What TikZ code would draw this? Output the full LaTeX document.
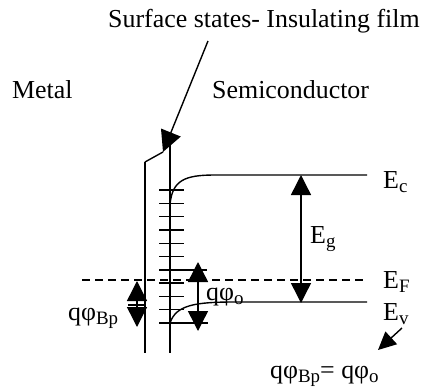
\documentclass[tikz,border=0pt]{standalone}
\usepackage{fontspec}
\setmainfont{Liberation Serif}
\usepackage{tikz}
\usetikzlibrary{arrows.meta, calc}
\newcommand{\lsub}[1]{\raisebox{-4bp}{\fontsize{19}{20}\selectfont #1}}
\tikzset{
  band/.style={line width=1.4pt},
  bigtip/.style={line width=1.4pt, {Triangle[length=20bp, width=20bp]}-{Triangle[length=20bp, width=20bp]}},
  lbl/.style={font=\fontsize{26}{30}\selectfont, inner sep=0pt, anchor=base west}
}

\begin{document}
\begin{tikzpicture}[x=1bp, y=-1bp]
  \useasboundingbox (0,0) rectangle (428,389);
  % Titles
  \node[lbl] (title) at (108,27) {Surface states- Insulating film};
  \node[lbl] (metal) at (12,98) {Metal};
  \node[lbl] (semi) at (212,98) {Semiconductor};
  % Metal and insulating film
  \coordinate (mtop) at (145,162);
  \coordinate (mbot) at (145,353);
  \coordinate (stop) at (170,143);
  \coordinate (sbot) at (170,353);
  \coordinate (film) at (163,152);
  \draw[band] (mtop) -- (mbot);
  \draw[band] (stop) -- (sbot);
  \draw[band] (mtop) -- (film);
  \coordinate (ttail) at (208,41);
  \draw[band, -{Triangle[length=21bp, width=21bp]}] (ttail) -- (film);
  % Surface states
  \foreach \i in {0,...,10} {
    \draw[band] (159,190+13.3*\i) -- (184,190+13.3*\i);
  }
  \draw[band] (184,269.8) -- (207,269.8);
  \draw[band] (184,323) -- (208,323);
  % Bands
  \coordinate (ecend) at (367,175);
  \coordinate (evend) at (367,302);
  \coordinate (efbeg) at (82,280);
  \coordinate (efend) at (367,280);
  \draw[band] (170,205) .. controls (172,180) and (185,175) .. (215,175) -- (ecend);
  \draw[band] (170,323) .. controls (176,305) and (195,302) .. (235,302) -- (evend);
  \draw[band, dash pattern=on 8bp off 5bp] (efbeg) -- (efend);
  \node[lbl] (ec) at (383,188) {E\lsub{c}};
  \node[lbl] (ef) at (383,288) {E\lsub{F}};
  \node[lbl] (ev) at (383,320) {E\lsub{v}};
  % Band gap
  \coordinate (egtop) at (301,175);
  \coordinate (egbot) at (301,303);
  \draw[bigtip] (egtop) -- (egbot);
  \node[lbl] (eg) at (310,243) {E\lsub{g}};
  % Barrier on the semiconductor side
  \coordinate (otop) at (198,262);
  \coordinate (obot) at (198,331);
  \draw[bigtip] (otop) -- (obot);
  \node[lbl] (phio) at (206,300) {qφ\lsub{o}};
  % Barrier on the metal side
  \coordinate (btop) at (137,281);
  \coordinate (bbot) at (137,327);
  \draw[bigtip] (btop) -- (bbot);
  \draw[band] (128,305) -- (145,305);
  \node[lbl] (phib) at (68,320) {qφ\lsub{Bp}};
  % Equality
  \coordinate (etail) at (402,328);
  \coordinate (ehead) at (378,350);
  \draw[band, -{Triangle[length=18bp, width=17bp]}] (etail) -- (ehead);
  \node[lbl] (eq) at (270,378) {qφ\lsub{Bp}= qφ\lsub{o}};
\end{tikzpicture}
\end{document}
